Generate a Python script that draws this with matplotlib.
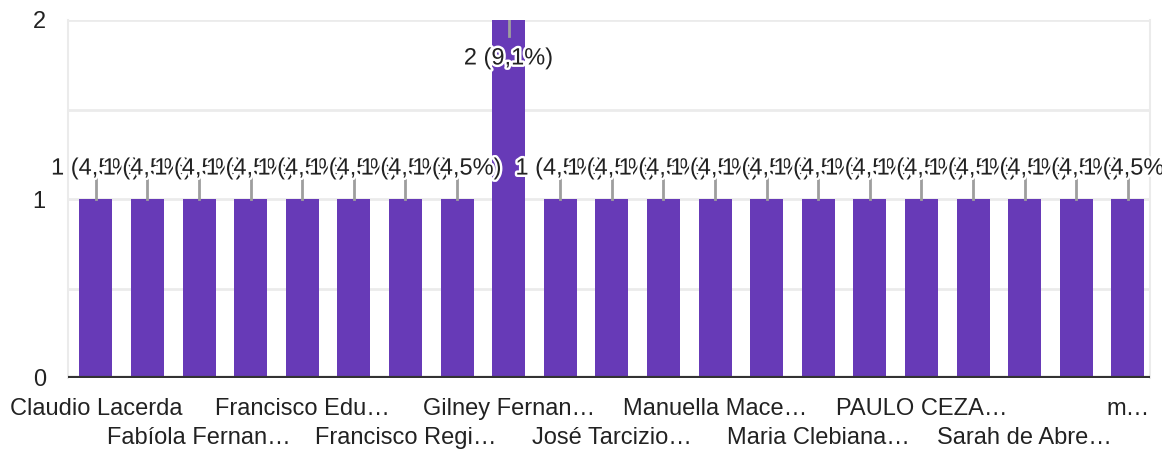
import matplotlib
matplotlib.use("Agg")
import matplotlib.pyplot as plt
import matplotlib.patheffects as pe

# ---- data ----
names = ["Claudio Lacerda", "", "Fabíola Fernan…", "", "Francisco Edu…", "",
         "Francisco Regi…", "", "Gilney Fernan…", "", "José Tarcizio…", "",
         "Manuella Mace…", "", "Maria Clebiana…", "", "PAULO CEZA…", "",
         "Sarah de Abre…", "", "m…"]
counts = [1, 1, 1, 1, 1, 1, 1, 1, 2, 1, 1, 1, 1, 1, 1, 1, 1, 1, 1, 1, 1]
percents = ["4,5%"] * 8 + ["9,1%"] + ["4,5%"] * 12
yticks = [0, 1, 2]

plt.rcParams['font.family'] = ['Liberation Sans', 'DejaVu Sans']
FS = 17

fig = plt.figure(figsize=(11.62, 4.53), dpi=100)
ax = fig.add_axes([68/1162, 1 - 378/453, 1082/1162, 358/453])

purple = "#673ab7"
x = list(range(len(counts)))
ax.bar(x, counts, width=0.64, color=purple, zorder=3)

ymax = max(counts)
ax.set_ylim(0, ymax)
ax.set_xlim(-0.54, len(counts) - 0.57)

# gridlines
for g in [0.5, 1.0, 1.5, 2.0]:
    ax.axhline(g, color="#ebebeb", lw=2, zorder=1)
ax.axhline(0, color="#333333", lw=3, zorder=4)

for s in ["top", "bottom"]:
    ax.spines[s].set_visible(False)
for s in ["left", "right"]:
    ax.spines[s].set_color("#ebebeb")
    ax.spines[s].set_linewidth(1.5)

ax.set_yticks(yticks)
ax.set_yticklabels([str(v) for v in yticks], fontsize=FS, color="#222222")
ax.tick_params(axis="y", length=0, pad=16)
ax.tick_params(axis="x", length=0)
ax.set_xticks([])

# x labels, staggered
for i, n in enumerate(names):
    if i % 2 == 1 or not n:
        continue
    row = (i // 2) % 2
    yoff = -22 if row == 0 else -43.5
    ax.annotate(n, xy=(i, 0), xytext=(0, yoff), textcoords="offset points",
                ha="center", va="center", fontsize=FS, color="#222222",
                annotation_clip=False)

# value labels
halo = [pe.withStroke(linewidth=3.5, foreground="white")]
for i, (c, p) in enumerate(zip(counts, percents)):
    txt = f"{c} ({p})"
    if c >= ymax:
        ax.plot([i, i], [c, c - 0.09], color="#9e9e9e", lw=2, zorder=5)
        ax.text(i, c - 0.215, txt, ha="center", va="center", fontsize=FS,
                color="#222222", path_effects=halo, zorder=6)
    else:
        ax.plot([i, i], [c, c + 0.12], color="#9e9e9e", lw=2, zorder=5)
        ax.text(i, c + 0.17, txt, ha="center", va="center", fontsize=FS,
                color="#222222", path_effects=halo, zorder=6)

fig.savefig("out.png", dpi=100)
